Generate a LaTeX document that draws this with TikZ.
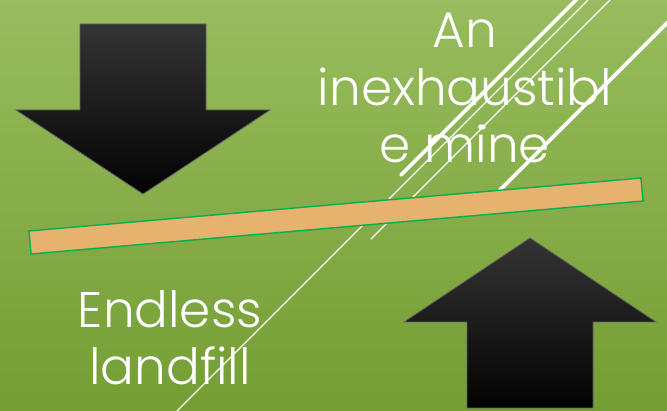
\documentclass[tikz,border=0pt]{standalone}
\usepackage{fontspec}
\IfFontExistsTF{Poppins Light}{\setmainfont{Poppins Light}}{\setmainfont{Poppins}}
\definecolor{bgtop}{RGB}{152,188,94}
\definecolor{bgbot}{RGB}{116,158,52}
\definecolor{plankfill}{RGB}{230,179,110}
\definecolor{plankedge}{RGB}{0,176,80}
\definecolor{arrtop}{RGB}{52,52,52}
\definecolor{arrbot}{RGB}{2,2,2}
\tikzset{
  bigarrow/.style={top color=arrtop, bottom color=arrbot, draw={rgb,255:red,95;green,95;blue,95}, line width=0.8pt, line join=miter},
  thinline/.style={draw=white, line width=1.3pt, line cap=round},
  thickline/.style={draw=white, line width=3.8pt, line cap=round},
  plank/.style={fill=plankfill, draw=plankedge, line width=1.4pt},
  bigtext/.style={text=white, font=\fontsize{50}{57.5}\selectfont, align=center, inner sep=0pt}
}
\begin{document}
\begin{tikzpicture}[x=1pt,y=-1pt]
\useasboundingbox (0,0) rectangle (667,411);
\shade[top color=bgtop, bottom color=bgbot] (0,0) rectangle (667,411);
% arrows
\path[bigarrow] (80,24) -- (206,24) -- (206,110) -- (270,110) -- (143,194) -- (16,110) -- (80,110) -- cycle;
\path[bigarrow] (530,238) -- (656,322) -- (593,322) -- (593,408) -- (467,408) -- (467,322) -- (404,322) -- cycle;
% white lines
\coordinate (l1a) at (588,0);
\coordinate (l1b) at (177,411);
\coordinate (l2a) at (610,0);
\coordinate (l2b) at (371,239);
\coordinate (t1a) at (578,-2);
\coordinate (t1b) at (401,175);
\coordinate (t2a) at (669,21);
\coordinate (t2b) at (500,190);
\coordinate (dot) at (483,127);
\draw[thinline] (l1a) -- (l1b);
\draw[thinline] (l2a) -- (l2b);
\fill[white] (dot) circle (2.6pt);
\draw[thickline] (t1a) -- (t1b);
\draw[thickline] (t2a) -- (t2b);
% plank
\path[plank] (29,231) -- (641,178) -- (643,201) -- (31,254) -- cycle;
% texts
\node[bigtext, anchor=base] (mine) at (465,163) {An\\inexhaustibl\\e mine};
\node[bigtext, anchor=base] (landfill) at (170,385) {Endless\\landfill};
\end{tikzpicture}
\end{document}
